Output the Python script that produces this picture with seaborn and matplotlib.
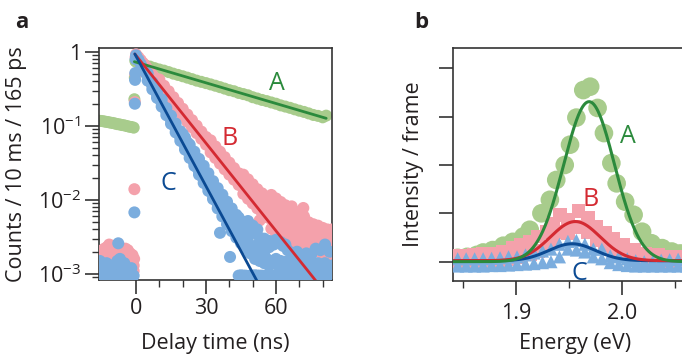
import numpy as np
import matplotlib
matplotlib.use("Agg")
import matplotlib.pyplot as plt
import seaborn as sns
from matplotlib.ticker import FixedLocator, NullFormatter, LogLocator

# ---------------- panel a : decay traces ----------------
# A (green) pre-zero plateau, rise, decay
a_pre_t = [-16, -15, -14, -13, -12, -11, -10, -9, -8, -7, -6, -5, -4, -3, -2, -1]
a_pre_v = [0.118, 0.117, 0.116, 0.114, 0.113, 0.111, 0.110, 0.108, 0.106, 0.105,
           0.103, 0.102, 0.100, 0.098, 0.097, 0.095]
a_rise_t = [-0.7, -0.5, -0.3]
a_rise_v = [0.23, 0.45, 0.76]
a_t = list(range(0, 81, 2)) + [81.5]
a_v = [0.74, 0.69, 0.66, 0.635, 0.605, 0.58, 0.56, 0.535, 0.51, 0.49, 0.47, 0.45,
       0.43, 0.41, 0.395, 0.38, 0.365, 0.35, 0.335, 0.32, 0.305, 0.295, 0.28, 0.27,
       0.26, 0.245, 0.235, 0.225, 0.217, 0.208, 0.2, 0.19, 0.183, 0.176, 0.168,
       0.161, 0.155, 0.148, 0.141, 0.137, 0.131, 0.138]

# B (pink)
b_pre_t = [-15.5, -14.5, -13.5, -12.5, -11.5, -10.5, -9.5, -8.5, -7.5, -6.5, -5.5,
           -4.5, -3.5, -2.5, -1.5, -0.8]
b_pre_hi = [2.0e-3, 2.1e-3, 2.2e-3, 2.3e-3, 2.5e-3, 2.4e-3, 2.2e-3, 2.3e-3, 2.1e-3,
            2.2e-3, 2.0e-3, 2.2e-3, 2.1e-3, 1.9e-3, 1.8e-3, 1.6e-3]
b_pre_t2 = [-16, -15, -14, -13, -12, -11, -10, -9, -8, -7, -6, -5, -4, -3, -2, -1]
b_pre_mid = [1.5e-3, 1.6e-3, 1.4e-3, 1.7e-3, 1.5e-3, 1.8e-3, 1.6e-3, 1.4e-3, 1.7e-3,
             1.5e-3, 1.6e-3, 1.5e-3, 1.7e-3, 1.4e-3, 1.5e-3, 1.3e-3]
b_pre_lo = [1.1e-3, 1.15e-3, 1.1e-3, 1.1e-3, 1.2e-3, 1.1e-3, 1.1e-3, 1.15e-3, 1.1e-3,
            1.1e-3, 1.2e-3, 1.1e-3, 1.1e-3, 1.1e-3, 1.15e-3, 1.1e-3]
b_rise_t = [-0.7, -0.5, -0.3, -0.15]
b_rise_v = [0.014, 0.21, 0.5, 0.85]
b_t = list(range(0, 85))
b_v = [0.93, 0.85, 0.78, 0.71, 0.65, 0.59, 0.54, 0.49, 0.45, 0.41, 0.38, 0.345, 0.315,
       0.287, 0.263, 0.24, 0.219, 0.2, 0.183, 0.168, 0.153, 0.14, 0.128, 0.117, 0.107,
       0.098, 0.09, 0.082, 0.075, 0.069, 0.063, 0.058, 0.053, 0.0485, 0.0444, 0.0408,
       0.0374, 0.0344, 0.0316, 0.029, 0.0267, 0.0245, 0.0226, 0.0208, 0.0192, 0.0177,
       0.0164, 0.0151, 0.014, 0.013, 0.0121, 0.0112, 0.0104, 0.0097, 0.0091, 0.0085,
       0.0079, 0.0074, 0.0069, 0.0066, 0.0062, 0.0058, 0.0055, 0.0052, 0.005, 0.0047,
       0.0045, 0.0043, 0.0041, 0.004, 0.0038, 0.0037, 0.0035, 0.0034, 0.0033, 0.0032,
       0.0031, 0.003, 0.003, 0.0029, 0.0028, 0.0028, 0.0027, 0.0027, 0.0027]
b_env_t = list(range(10, 85, 2))
b_hi = [0.425, 0.35, 0.295, 0.245, 0.205, 0.171, 0.143, 0.12, 0.101, 0.084, 0.071,
        0.064, 0.053, 0.045, 0.038, 0.032, 0.027, 0.023, 0.022, 0.019, 0.0163, 0.014,
        0.0123, 0.0107, 0.0117, 0.0105, 0.0094, 0.0085, 0.0077, 0.007, 0.0065, 0.006,
        0.005, 0.0047, 0.0045, 0.0042, 0.004, 0.004]
b_lo = [0.34, 0.28, 0.235, 0.195, 0.163, 0.137, 0.114, 0.096, 0.08, 0.067, 0.056,
        0.044, 0.037, 0.031, 0.026, 0.022, 0.0188, 0.016, 0.0121, 0.0104, 0.009,
        0.0077, 0.0067, 0.0059, 0.0041, 0.0036, 0.0032, 0.003, 0.0027, 0.0024, 0.0022,
        0.0021, 0.0022, 0.0021, 0.002, 0.0019, 0.0018, 0.0018]
b_tail_t = list(range(55, 84, 2))
b_tail_a = [0.011, 0.0096, 0.0086, 0.0075, 0.0068, 0.0061, 0.0056, 0.0052, 0.0048,
            0.0044, 0.0042, 0.0039, 0.0037, 0.0036, 0.0035]
b_tail_b = [0.0065, 0.0057, 0.0051, 0.0045, 0.004, 0.0036, 0.0033, 0.0031, 0.0028,
            0.0026, 0.0025, 0.0023, 0.0022, 0.0022, 0.0021]
b_out_t = [53.0, 66.7, 71.7]
b_out_v = [0.0053, 0.0082, 0.0078]

# C (blue)
c_pre_t = [-16, -15.5, -15, -14.5, -14, -13.5, -13, -12.5, -12, -11.5, -11, -10.5, -10,
           -9.5, -9, -8.5, -8, -7.5, -7, -6.5, -6, -5.5, -5, -4.5, -4, -3.5, -3, -2.5,
           -2, -1.5, -1]
c_pre_v = [0.95e-3, 0.95e-3, 0.96e-3, 0.95e-3, 0.95e-3, 0.94e-3, 0.95e-3, 0.95e-3,
           0.96e-3, 0.95e-3, 0.95e-3, 0.95e-3, 0.94e-3, 0.95e-3, 0.95e-3, 0.95e-3,
           0.96e-3, 0.95e-3, 0.95e-3, 0.95e-3, 0.94e-3, 0.95e-3, 0.95e-3, 0.95e-3,
           0.96e-3, 0.95e-3, 0.95e-3, 0.95e-3, 0.94e-3, 0.95e-3, 0.95e-3]
c_pre_sc_t = [-15.5, -14.5, -12.6, -11.1, -10, -8, -7.6, -6.9, -6.1, -5, -4, -3.3, -2]
c_pre_sc_v = [1.5e-3, 1.3e-3, 1.4e-3, 1.2e-3, 1.3e-3, 1.5e-3, 2.6e-3, 1.6e-3, 1.26e-3,
              1.4e-3, 1.2e-3, 1.1e-3, 1.2e-3]
c_rise_t = [-0.7, -0.5, -0.4, -0.3, -0.15]
c_rise_v = [0.0068, 0.2, 0.42, 0.52, 0.8]
c_t = list(range(0, 51))
c_v = [0.90, 0.79, 0.69, 0.60, 0.525, 0.46, 0.40, 0.35, 0.306, 0.268, 0.234, 0.205,
       0.179, 0.156, 0.137, 0.12, 0.105, 0.0915, 0.08, 0.07, 0.0614, 0.0537, 0.0471,
       0.0412, 0.0362, 0.0317, 0.0278, 0.0244, 0.0214, 0.0189, 0.0166, 0.0147, 0.0129,
       0.0114, 0.0101, 0.0089, 0.0079, 0.007, 0.0063, 0.0056, 0.005, 0.0045, 0.0041,
       0.0037, 0.0034, 0.0031, 0.0028, 0.0026, 0.0024, 0.0022, 0.0021]
c_env_t = list(range(5, 50, 2))
c_hi = [0.515, 0.39, 0.30, 0.23, 0.175, 0.138, 0.108, 0.085, 0.07, 0.056, 0.045, 0.036,
        0.029, 0.023, 0.018, 0.0145, 0.0118, 0.0095, 0.0077, 0.0063, 0.0052, 0.0044,
        0.0037]
c_lo = [0.41, 0.313, 0.24, 0.183, 0.14, 0.107, 0.082, 0.063, 0.048, 0.037, 0.029, 0.022,
        0.017, 0.0133, 0.0103, 0.0077, 0.006, 0.0047, 0.0038, 0.0031, 0.0026, 0.0022,
        0.0019]
c_mid_t = list(range(20, 49, 2))
c_mid = [0.078, 0.06, 0.046, 0.0355, 0.0272, 0.0212, 0.0165, 0.0129, 0.0101, 0.008,
         0.0064, 0.0052, 0.0043, 0.0036, 0.0031]
c_floor_t = list(range(44, 85))
c_floor_v = [0.95e-3, 0.96e-3, 0.95e-3, 0.95e-3, 0.94e-3, 0.95e-3, 0.95e-3, 0.96e-3,
             0.95e-3, 0.95e-3, 0.95e-3, 0.94e-3, 0.95e-3, 0.95e-3, 0.96e-3, 0.95e-3,
             0.95e-3, 0.95e-3, 0.94e-3, 0.95e-3, 0.95e-3, 0.96e-3, 0.95e-3, 0.95e-3,
             0.95e-3, 0.94e-3, 0.95e-3, 0.95e-3, 0.96e-3, 0.95e-3, 0.95e-3, 0.95e-3,
             0.94e-3, 0.95e-3, 0.95e-3, 0.96e-3, 0.95e-3, 0.95e-3, 0.95e-3, 0.94e-3,
             0.95e-3]
c_row2_t = list(range(50, 85))
c_row2_v = [1.9e-3, 1.6e-3, 1.8e-3, 1.5e-3, 1.7e-3, 1.4e-3, 1.6e-3, 1.3e-3, 1.5e-3,
            1.4e-3, 1.6e-3, 1.3e-3, 1.5e-3, 1.4e-3, 1.3e-3, 1.5e-3, 1.4e-3, 1.2e-3,
            1.4e-3, 1.3e-3, 1.5e-3, 1.3e-3, 1.2e-3, 1.4e-3, 1.3e-3, 1.4e-3, 1.2e-3,
            1.3e-3, 1.4e-3, 1.3e-3, 1.2e-3, 1.4e-3, 1.3e-3, 1.2e-3, 1.3e-3]
c_row3_t = list(range(51, 84, 2))
c_row3_v = [2.4e-3, 2.2e-3, 2.0e-3, 2.3e-3, 2.5e-3, 2.7e-3, 2.4e-3, 2.1e-3, 1.9e-3,
            2.0e-3, 1.8e-3, 1.9e-3, 1.8e-3, 2.2e-3, 2.1e-3, 2.5e-3, 2.0e-3]
c_out_t = [36, 40.3, 44, 46, 47, 48, 50, 52, 53, 55, 56, 57, 60, 62, 64]
c_out_v = [3.6e-3, 1.7e-3, 5.8e-3, 5.0e-3, 4.2e-3, 5.2e-3, 4.5e-3, 4.0e-3, 3.1e-3,
           3.0e-3, 2.4e-3, 2.8e-3, 2.9e-3, 2.7e-3, 2.5e-3]

# fit lines (single exponentials -> straight on log axis), read as end points
fitA_t, fitA_v = [-0.7, 81.5], [0.74, 0.127]
fitB_t, fitB_v = [-0.5, 80.0], [0.94, 6.2e-4]
fitC_t, fitC_v = [-0.5, 53.0], [0.94, 6.9e-4]

# ---------------- panel b : spectra ----------------
specA_E = [1.845, 1.854, 1.863, 1.869, 1.878, 1.888, 1.897, 1.907, 1.913, 1.924, 1.932,
           1.938, 1.946, 1.951, 1.957, 1.9635, 1.970, 1.977, 1.983, 1.990, 1.995, 2.003,
           2.011, 2.019, 2.028, 2.038, 2.047, 2.055, 2.063]
specA_I = [0.08, 0.10, 0.14, 0.19, 0.24, 0.33, 0.41, 0.52, 0.66, 1.0, 1.28, 1.69, 2.0,
           2.42, 2.98, 3.55, 3.62, 3.18, 2.66, 2.04, 1.62, 1.24, 0.97, 0.62, 0.38, 0.28,
           0.21, 0.17, 0.15]
specB_E = [1.845, 1.850, 1.860, 1.869, 1.878, 1.888, 1.897, 1.905, 1.913, 1.921, 1.929,
           1.935, 1.9415, 1.949, 1.959, 1.968, 1.976, 1.984, 1.992, 2.001, 2.011, 2.022,
           2.034, 2.047, 2.055, 2.063]
specB_hi = [0.11, 0.12, 0.14, 0.16, 0.17, 0.21, 0.28, 0.35, 0.41, 0.52, 0.62, 0.79, 0.97,
            0.86, 1.04, 0.9, 0.72, 0.59, 0.48, 0.35, 0.24, 0.17, 0.14, 0.10, 0.09, 0.08]
specB_lo = [-0.08, -0.07, -0.06, -0.05, -0.04, 0.0, 0.05, 0.1, 0.15, 0.22, 0.3, 0.45,
            0.62, 0.6, 0.72, 0.62, 0.45, 0.35, 0.25, 0.12, 0.05, -0.02, -0.05, -0.07,
            -0.07, -0.08]
specC_E = [1.845, 1.853, 1.861, 1.869, 1.877, 1.885, 1.893, 1.901, 1.909, 1.917, 1.925,
           1.933, 1.941, 1.949, 1.957, 1.965, 1.973, 1.981, 1.989, 1.997, 2.005, 2.013,
           2.021, 2.029, 2.037, 2.045, 2.053, 2.061]
specC_hi = [0.06, 0.06, 0.06, 0.06, 0.07, 0.08, 0.1, 0.1, 0.14, 0.18, 0.22, 0.26, 0.36,
            0.42, 0.44, 0.36, 0.26, 0.26, 0.12, 0.1, 0.06, 0.02, 0.0, 0.0, 0.03, 0.04,
            0.05, 0.05]
specC_lo = [-0.09, -0.09, -0.09, -0.09, -0.08, -0.08, -0.07, -0.06, -0.05, -0.04, -0.02,
            0.0, 0.1, 0.26, 0.24, 0.2, 0.1, 0.06, -0.02, -0.06, -0.08, -0.09, -0.09,
            -0.09, -0.09, -0.09, -0.09, -0.09]
# Gaussian fit parameters: centre (eV), sigma (eV), amplitude, baseline
fit_center = [1.969, 1.956, 1.953]
fit_sigma = [0.024, 0.0235, 0.022]
fit_amp = [3.31, 0.81, 0.35]
fit_base = [0.0, 0.02, 0.02]

# ---------------- style ----------------
GREEN_PT, GREEN_LN = "#a8cc8c", "#2b8a3c"
PINK_PT, RED_LN = "#f4a1ab", "#d42a32"
BLUE_PT, BLUE_LN = "#7badde", "#0b4a93"
AX_C = "#333333"

sns.set_theme(style="ticks")
plt.rcParams["font.family"] = ["Open Sans", "DejaVu Sans"]
plt.rcParams["mathtext.fontset"] = "custom"
plt.rcParams["mathtext.rm"] = "Open Sans"
plt.rcParams["mathtext.it"] = "Open Sans:italic"
plt.rcParams["mathtext.bf"] = "Open Sans:bold"
plt.rcParams["axes.edgecolor"] = AX_C
plt.rcParams["text.color"] = "#231f20"

W, H = 682, 355
fig = plt.figure(figsize=(W / 100, H / 100), dpi=100)


def rect(l, t, r, b):
    return [l / W, 1 - b / H, (r - l) / W, (b - t) / H]


ax_a = fig.add_axes(rect(99, 48, 332, 280))
ax_b = fig.add_axes(rect(452.7, 48, 697, 281))


def dots(ax, x, y, color, s, marker="o", z=2):
    sns.scatterplot(x=np.asarray(x, float), y=np.asarray(y, float), ax=ax, color=color,
                    s=s, marker=marker, linewidth=0, edgecolor="none", legend=False,
                    zorder=z)


def line(ax, x, y, color, lw, z=5):
    sns.lineplot(x=np.asarray(x, float), y=np.asarray(y, float), ax=ax, color=color,
                 linewidth=lw, sort=False, estimator=None, legend=False, zorder=z)


# panel a
S = 75
for x, y in [(a_pre_t, a_pre_v), (a_rise_t, a_rise_v), (a_t, a_v)]:
    dots(ax_a, x, y, GREEN_PT, S, z=2)
for x, y in [(b_pre_t, b_pre_hi), (b_pre_t2, b_pre_mid), (b_pre_t2, b_pre_lo),
             (b_rise_t, b_rise_v), (b_t, b_v), (b_env_t, b_hi), (b_env_t, b_lo),
             (b_tail_t, b_tail_a), (b_tail_t, b_tail_b), (b_out_t, b_out_v)]:
    dots(ax_a, x, y, PINK_PT, S, z=3)
for x, y in [(c_pre_t, c_pre_v), (c_pre_sc_t, c_pre_sc_v), (c_rise_t, c_rise_v),
             (c_t, c_v), (c_env_t, c_hi), (c_env_t, c_lo), (c_mid_t, c_mid),
             (c_floor_t, c_floor_v), (c_row2_t, c_row2_v), (c_row3_t, c_row3_v),
             (c_out_t, c_out_v)]:
    dots(ax_a, x, y, BLUE_PT, S, z=4)
line(ax_a, fitA_t, fitA_v, GREEN_LN, 2.0)
line(ax_a, fitB_t, fitB_v, RED_LN, 2.0)
line(ax_a, fitC_t, fitC_v, BLUE_LN, 2.0)

ax_a.set_yscale("log")
ax_a.set_xlim(-15.86, 84.0)
ax_a.set_ylim(10 ** -3.081, 10 ** 0.054)
ax_a.xaxis.set_major_locator(FixedLocator([0, 30, 60]))
ax_a.xaxis.set_minor_locator(FixedLocator([10, 20, 40, 50, 70, 80]))
ax_a.set_xticklabels(["0", "30", "60"])
ax_a.yaxis.set_major_locator(FixedLocator([1e-3, 1e-2, 1e-1, 1]))
ax_a.set_yticklabels([r"10$^{-3}$", r"10$^{-2}$", r"10$^{-1}$", "1"])
ax_a.yaxis.set_minor_locator(LogLocator(base=10, subs=np.arange(2, 10)))
ax_a.yaxis.set_minor_formatter(NullFormatter())
ax_a.set_xlabel("")
ax_a.set_ylabel("")

FS_ANN = 18
ax_a.text(60.3, 0.378, "A", color=GREEN_LN, fontsize=FS_ANN, ha="center", va="center")
ax_a.text(40.3, 0.068, "B", color=RED_LN, fontsize=FS_ANN, ha="center", va="center")
ax_a.text(13.8, 0.0168, "C", color=BLUE_LN, fontsize=FS_ANN, ha="center", va="center")

# panel b
Egrid = np.linspace(1.835, 2.075, 400)
dots(ax_b, specA_E, specA_I, GREEN_PT, 180, "o", z=2)
dots(ax_b, specB_E, specB_hi, PINK_PT, 100, "s", z=3)
dots(ax_b, specB_E, specB_lo, PINK_PT, 100, "s", z=3)
dots(ax_b, specC_E, specC_hi, BLUE_PT, 90, "^", z=4)
dots(ax_b, specC_E, specC_lo, BLUE_PT, 90, "^", z=4)
for i, col in [(2, BLUE_LN), (1, RED_LN), (0, GREEN_LN)]:
    fit = fit_base[i] + fit_amp[i] * np.exp(-(Egrid - fit_center[i]) ** 2 / (2 * fit_sigma[i] ** 2))
    line(ax_b, Egrid, fit, col, 2.2, z=5 + (2 - i))

ax_b.set_xlim(1.8403, 2.0708)
ax_b.set_ylim(-0.40, 4.42)
ax_b.xaxis.set_major_locator(FixedLocator([1.9, 2.0]))
ax_b.xaxis.set_minor_locator(FixedLocator([1.85, 1.95, 2.05]))
ax_b.set_xticklabels(["1.9", "2.0"])
ax_b.yaxis.set_major_locator(FixedLocator([0, 1, 2, 3, 4]))
ax_b.set_yticklabels([])
ax_b.set_xlabel("")
ax_b.set_ylabel("")
ax_b.text(2.006, 2.59, "A", color=GREEN_LN, fontsize=FS_ANN, ha="center", va="center")
ax_b.text(1.970, 1.28, "B", color=RED_LN, fontsize=FS_ANN, ha="center", va="center")
ax_b.text(1.960, -0.24, "C", color=BLUE_LN, fontsize=FS_ANN, ha="center", va="center")

for ax in (ax_a, ax_b):
    for sp in ax.spines.values():
        sp.set_linewidth(1.2)
        sp.set_color(AX_C)
    ax.tick_params(which="major", direction="out", length=10, width=1.2, color=AX_C,
                   labelsize=15.5, labelcolor="#231f20")
    ax.tick_params(which="minor", direction="out", length=5, width=1.0, color=AX_C)
    ax.set_facecolor("white")
ax_a.tick_params(axis="x", which="major", pad=3)
ax_a.tick_params(axis="y", which="major", pad=3)
ax_b.tick_params(axis="x", which="major", pad=6)
ax_b.spines["right"].set_visible(False)

FS_LAB = 15.5
fig.text(215.5 / W, 1 - 343 / H, "Delay time (ns)", fontsize=FS_LAB, ha="center", va="center")
fig.text(575 / W, 1 - 343 / H, "Energy (eV)", fontsize=FS_LAB, ha="center", va="center")
fig.text(17 / W, 1 - 164 / H, "Counts / 10 ms / 165 ps", fontsize=FS_LAB, rotation=90,
         ha="center", va="center")
fig.text(413 / W, 1 - 164 / H, "Intensity / frame", fontsize=FS_LAB, rotation=90,
         ha="center", va="center")
fig.text(21.7 / W, 1 - 23 / H, "a", fontsize=16, fontweight="bold", ha="center", va="center")
fig.text(421.7 / W, 1 - 23 / H, "b", fontsize=16, fontweight="bold", ha="center", va="center")

fig.savefig("out.png", dpi=100, facecolor="white")
